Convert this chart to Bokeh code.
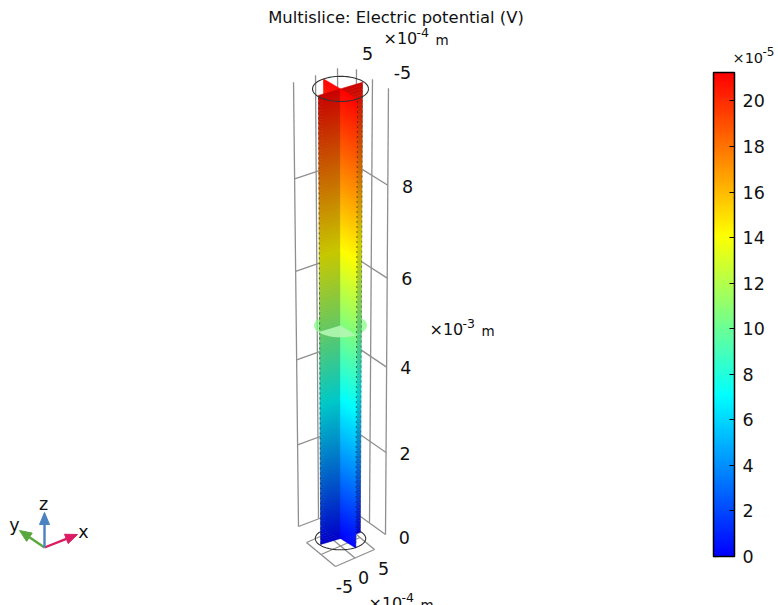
import numpy as np
from bokeh.core.properties import value
from bokeh.embed import file_html
from bokeh.models import ColorBar, FixedTicker, LinearColorMapper, Range1d
from bokeh.plotting import figure
from bokeh.resources import INLINE

# --- values -----------------------------------------------------------------
title = "Multislice: Electric potential (V)"
z_ticks = [0, 2, 4, 6, 8]                       # x 1e-3 m
z_labels = ["0", "2", "4", "6", "8"]
cbar_ticks = [0, 2, 4, 6, 8, 10, 12, 14, 16, 18, 20]   # x 1e-5 V
z_table = [0, 1, 2, 3, 4, 5, 6, 7, 8, 9, 10]    # x 1e-3 m
v_table = [0.0, 2.12, 4.24, 6.36, 8.48, 10.6, 12.72, 14.84, 16.96, 19.08, 21.2]  # x 1e-5 V
v_max = 21.25
slice_z = 5.0
slice_v = 10.6
color_v = [0.0, 7.07, 14.1, 21.25]
color_rgb = [(0, 0, 255), (0, 255, 255), (255, 255, 0), (255, 0, 0)]


def rgb_at(v):
    return [float(np.interp(v, color_v, [c[i] for c in color_rgb])) for i in range(3)]


def to_hex(rgb, k=1.0):
    return "#%02x%02x%02x" % tuple(int(round(min(255, c * k))) for c in rgb)


def v_at(z):
    return np.interp(z, z_table, v_table)


# --- projection of the 3D scene to the picture --------------------------------
CX, CY0, B, C = 340.0, 538.0, -45.84, -0.00994


def cy(z):
    return (CY0 + B * z) / (1 + C * z)


def scale(z):
    return 1.0 / (1 + C * z)


def proj(z, off0, off1=None):
    off1 = off0 if off1 is None else off1
    t = z / 10.0
    s = scale(z)
    return (CX + s * (off0[0] + t * (off1[0] - off0[0])),
            cy(z) + s * (off0[1] + t * (off1[1] - off0[1])))


p = figure(width=778, height=605, output_backend="svg", toolbar_location=None,
           x_range=Range1d(0, 778), y_range=Range1d(605, 0),
           min_border=0, outline_line_color=None)
p.xaxis.visible = False
p.yaxis.visible = False
p.grid.visible = False
p.background_fill_color = "white"

GRID = "#8f8f8f"
walls_left = [((-42, -12), (-42.3, -5.9)), ((-22, -20), (-22.5, -12.2)), ((0, -28), (-2.7, -18.5))]
walls_right = [((45, -4), (43.2, -0.5)), ((29, -16), (28.8, -8.6)), ((13, -27), (14.4, -17.6))]

for a, b in walls_left + walls_right:
    x0, y0 = proj(0, a, b)
    x1, y1 = proj(10, a, b)
    p.line([x0, x1], [y0, y1], line_color=GRID, line_width=1.3)
for wall in (walls_left, walls_right):
    a0, a1 = wall[0]
    c0, c1 = wall[2]
    for z in z_ticks:
        x0, y0 = proj(z, a0, a1)
        x1, y1 = proj(z, c0, c1)
        p.line([x0, x1], [y0, y1], line_color=GRID, line_width=1.3)

# floor grid
L, R, F = np.array([306.0, 542.0]), np.array([374.0, 549.0]), np.array([335.0, 566.0])
K = L + R - F
for t in (0.0, 0.5, 1.0):
    a, b = F + t * (R - F), L + t * (K - L)
    p.line([a[0], b[0]], [a[1], b[1]], line_color=GRID, line_width=1.3)
    a, b = F + t * (L - F), R + t * (K - R)
    p.line([a[0], b[0]], [a[1], b[1]], line_color=GRID, line_width=1.3)


def ellipse_xy(z, t0=0.0, t1=2 * np.pi, n=90):
    t = np.linspace(t0, t1, n)
    s = scale(z)
    return CX + s * 25.2 * np.cos(t), cy(z) + s * 11.3 * np.sin(t)


ex, ey = ellipse_xy(0)
p.line(ex, ey, line_color="#333333", line_width=1.1)

# slice at mid height, seen beside the column
ex, ey = ellipse_xy(slice_z)
p.patch(ex, ey, fill_color=to_hex(rgb_at(slice_v)), fill_alpha=0.72, line_color=None)

# the two vertical slices
A_BACK, A_FRONT = (-15.3, -9.0), (15.3, 9.5)
B_FRONT, B_BACK = (-19.8, 5.9), (19.8, -5.9)
CENTER = (0.0, 0.0)


def face(o0, o1, k):
    edges = np.linspace(0, 10, 161)
    xs, ys, cols = [], [], []
    for z0, z1 in zip(edges[:-1], edges[1:]):
        a, b, c, d = proj(z0, o0), proj(z0, o1), proj(z1, o1), proj(z1, o0)
        xs.append([a[0], b[0], c[0], d[0]])
        ys.append([a[1], b[1], c[1], d[1]])
        cols.append(to_hex(rgb_at(v_at((z0 + z1) / 2)), k))
    p.patches(xs, ys, fill_color=cols, line_color=cols, line_width=0.6)


face(CENTER, A_BACK, 1.0)
face(CENTER, B_BACK, 0.8)
face(CENTER, B_FRONT, 0.78)
face(CENTER, A_FRONT, 1.0)

# dashed edges of the slices
for off, col in ((B_FRONT, "#222222"), (A_FRONT, "#222222"), (B_BACK, "#444444")):
    x0, y0 = proj(0, off)
    x1, y1 = proj(10, off)
    p.line([x0, x1], [y0, y1], line_color=col, line_width=0.9, line_dash="2 3", line_alpha=0.7)

# slice at mid height, in front of the column
mid = proj(slice_z, CENTER)
b_end = proj(slice_z, B_FRONT)
a_end = proj(slice_z, A_FRONT)
ax, ay = ellipse_xy(slice_z, 0.55, np.pi - 0.3, 40)
p.patch(np.r_[mid[0], a_end[0], ax, b_end[0]], np.r_[mid[1], a_end[1], ay, b_end[1]],
        fill_color="#b2f7b2", fill_alpha=0.9, line_color=None)

# top circle
ex, ey = ellipse_xy(10)
p.line(ex, ey, line_color="#333333", line_width=1.1)


def label(x, y, s, size=17.5, align="center"):
    p.text([x], [y], text=[s], text_font=value("DejaVu Sans"), text_font_size=f"{size}px",
           text_align=align, text_baseline="middle", text_color="#111111")


def exp_label(x, y, exp, unit=None):
    label(x, y, "×10", 16, "left")
    label(x + 33, y - 6, exp, 12.5, "left")
    if unit:
        label(x + 52, y + 1, unit, 13.5, "left")


label(395.5, 17, title, 16.4)
exp_label(383, 38, "-4", "m")
exp_label(429, 329, "-3", "m")
exp_label(368, 603, "-4", "m")
label(367, 53, "5")
label(402, 72, "-5")
for z, s, dy in zip(z_ticks, z_labels, [1.5, 2.5, 2.0, 2.0, 0.5]):
    label(407 - 0.4 * (8 - z), cy(z) - dy, s)
label(344, 586, "-5")
label(363, 577, "0")
label(383, 568, "5")

# orientation triad
O = np.array([44.0, 547.0])
for tip, col, txt, pos in (((77.0, 534.0), "#dc1c62", "x", (83, 531)),
                           ((19.0, 530.0), "#58a83e", "y", (14, 524)),
                           ((44.0, 512.0), "#4a82c2", "z", (43, 503))):
    tip = np.array(tip)
    d = (tip - O) / np.linalg.norm(tip - O)
    n = np.array([-d[1], d[0]])
    base = tip - 12 * d
    p.line([O[0], base[0]], [O[1], base[1]], line_color=col, line_width=2.4)
    pts = np.array([tip, base + 5 * n, base - 5 * n])
    p.patch(pts[:, 0], pts[:, 1], fill_color=col, line_color=col)
    label(pos[0], pos[1], txt)

# colour bar
stops = np.linspace(0, v_max, 256)
palette = [to_hex(rgb_at(v)) for v in stops]
mapper = LinearColorMapper(palette=palette, low=0, high=v_max)
BAR_H = 484
bar = ColorBar(color_mapper=mapper, ticker=FixedTicker(ticks=cbar_ticks), location=(713, 49),
               width=21, height=BAR_H, padding=0, margin=0, background_fill_color=None,
               bar_line_color="black", bar_line_width=1.5,
               major_tick_line_color="black", major_tick_in=5, major_tick_out=0, major_tick_line_width=1.2,
               minor_tick_line_color=None, label_standoff=8,
               major_label_text_font="DejaVu Sans", major_label_text_font_size="17.5px",
               major_label_text_color="#111111")
p.add_layout(bar, "center")
for v in cbar_ticks:
    y = 556 - v * BAR_H / v_max
    p.line([713, 718], [y, y], line_color="black", line_width=1.2)
label(732, 57, "×10", 14.5, "left")
label(762, 51, "-5", 12, "left")

open("out.html", "w").write(file_html(p, INLINE))
